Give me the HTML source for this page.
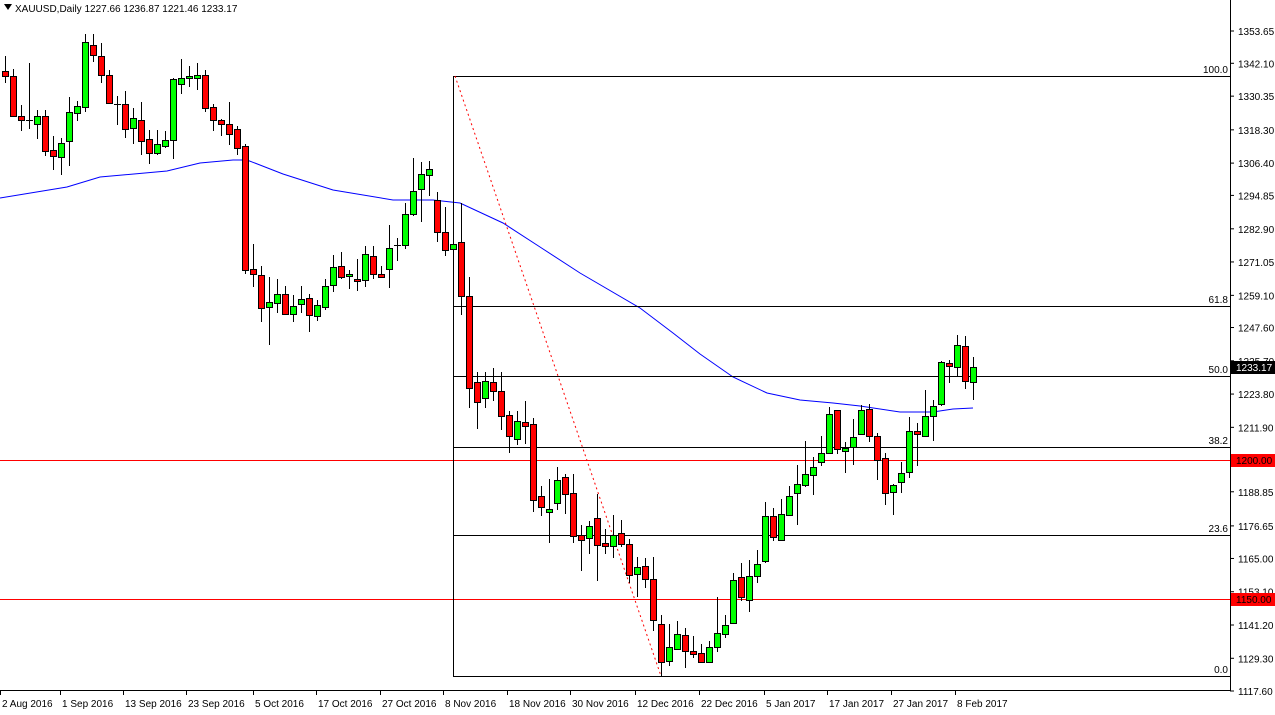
<!DOCTYPE html>
<html><head><meta charset="utf-8"><style>
html,body{margin:0;padding:0;background:#fff;}
svg{display:block;font-family:"Liberation Sans",sans-serif;}
</style></head><body>
<svg id="s" width="1275" height="715" viewBox="0 0 1275 715" xmlns="http://www.w3.org/2000/svg">
<rect width="1275" height="715" fill="#fff"/>
</svg>
<script>
const s=document.getElementById('s');let h='';
const ma=[[0,198],[67,187],[100,177],[167,171],[200,163],[233,160],[247,160],[283,174],[333,190],[393,200],[433,200],[460,203],[503,223],[540,247],[580,273],[640,308],[673,333],[700,354],[733,377],[767,393],[800,400],[833,403],[860,406],[900,412],[933,412],[953,409],[973,408]];
h+='<polyline fill="none" stroke="#0000ff" stroke-width="1" points="'+ma.map(p=>p.join(',')).join(' ')+'"/>';
h+='<line x1="0" y1="460.5" x2="1230" y2="460.5" stroke="#ff0000"/><line x1="0" y1="599.5" x2="1230" y2="599.5" stroke="#ff0000"/>';
h+='<line x1="453.5" y1="76" x2="453.5" y2="676" stroke="#000"/>';
[[76,'100.0'],[306,'61.8'],[376,'50.0'],[447,'38.2'],[535,'23.6'],[676,'0.0']].forEach(f=>{
h+=`<line x1="453" y1="${f[0]+.5}" x2="1230" y2="${f[0]+.5}" stroke="#000"/><text x="1228" y="${f[0]-3}" font-size="10" text-anchor="end">${f[1]}</text>`;});
h+='<line x1="455" y1="76" x2="661" y2="676" stroke="#ff0000" stroke-dasharray="2,3"/>';
const C=[[5,56,83,71,76,'r'],[13,69,116,76,116,'r'],[21,105,131,116,120,'r'],[29,63,129,120,120,'d'],[37,110,139,116,124,'g'],[45,110,156,116,151,'r'],[53,136,170,150,156,'r'],[61,138,175,143,157,'g'],[69,97,166,112,141,'g'],[77,101,121,106,113,'g'],[85,34,112,42,107,'g'],[93,34,62,45,55,'r'],[101,43,83,56,75,'r'],[109,70,103,75,103,'r'],[117,96,125,104,104,'d'],[125,91,138,104,129,'r'],[133,108,144,118,128,'g'],[141,102,155,120,141,'r'],[149,130,164,139,153,'r'],[157,130,155,144,153,'g'],[165,131,148,140,146,'g'],[173,78,159,79,140,'g'],[181,59,94,78,84,'g'],[189,66,87,76,78,'g'],[197,63,90,75,78,'g'],[205,70,112,75,108,'r'],[213,104,131,107,120,'r'],[221,119,136,120,124,'r'],[229,102,145,124,134,'r'],[237,126,155,129,148,'r'],[245,144,274,146,270,'r'],[253,244,287,269,274,'r'],[261,266,322,275,308,'r'],[269,277,345,302,307,'g'],[277,279,313,294,303,'g'],[285,286,314,294,314,'r'],[293,295,322,306,314,'g'],[301,286,313,299,304,'g'],[309,294,332,298,315,'r'],[317,300,321,305,316,'g'],[325,279,310,286,307,'g'],[333,255,292,267,285,'g'],[341,252,279,266,277,'r'],[349,270,289,274,276,'g'],[357,259,291,279,281,'r'],[365,246,287,254,280,'g'],[373,246,279,256,274,'r'],[381,266,278,274,277,'r'],[389,225,288,248,269,'g'],[397,238,261,245,245,'d'],[405,203,249,214,245,'g'],[413,158,216,191,214,'g'],[421,162,222,174,189,'g'],[429,161,196,169,175,'g'],[437,192,242,200,232,'r'],[445,207,256,232,250,'r'],[453,195,270,244,249,'g'],[461,203,315,242,296,'r'],[469,277,408,296,388,'r'],[477,372,429,382,402,'r'],[485,372,408,381,398,'g'],[493,368,401,382,391,'r'],[501,372,430,391,416,'r'],[509,411,453,415,436,'r'],[517,411,445,421,439,'g'],[525,401,444,422,426,'r'],[533,418,512,424,500,'r'],[541,486,516,496,507,'r'],[549,479,543,509,512,'g'],[557,467,510,480,503,'g'],[565,474,514,477,494,'r'],[573,474,543,493,536,'r'],[581,525,571,535,540,'r'],[589,521,554,526,538,'g'],[597,494,581,518,545,'r'],[605,529,554,543,546,'r'],[613,515,558,535,546,'g'],[621,520,547,533,544,'r'],[629,539,583,544,575,'r'],[637,557,597,567,574,'g'],[645,558,588,566,579,'r'],[653,557,631,579,620,'r'],[661,615,677,624,662,'r'],[669,624,666,647,661,'g'],[677,621,650,634,649,'g'],[685,628,668,635,651,'r'],[693,636,658,651,654,'r'],[701,644,663,653,662,'r'],[709,641,662,647,662,'g'],[717,597,652,633,647,'g'],[725,615,638,625,634,'g'],[733,573,624,580,623,'g'],[741,563,601,577,597,'r'],[749,560,612,576,600,'g'],[757,550,583,564,576,'g'],[765,502,563,516,561,'g'],[773,508,541,516,537,'r'],[781,499,541,514,540,'g'],[789,486,515,496,515,'g'],[797,465,525,484,493,'g'],[805,441,487,474,485,'g'],[813,457,495,467,475,'g'],[821,436,466,453,462,'g'],[829,407,454,414,453,'g'],[837,410,454,410,449,'r'],[845,442,473,448,451,'g'],[853,419,465,437,447,'g'],[861,405,434,410,434,'g'],[869,404,442,409,436,'r'],[877,433,480,436,460,'r'],[885,453,505,458,493,'r'],[893,484,515,485,492,'g'],[901,462,493,473,482,'g'],[909,417,478,431,472,'g'],[917,423,466,431,434,'r'],[925,390,437,416,436,'g'],[933,400,441,406,416,'g'],[941,361,406,362,404,'g'],[949,360,383,363,366,'r'],[957,335,376,345,367,'g'],[965,336,389,346,381,'r'],[973,357,400,367,382,'g']];
C.forEach(c=>{const[x,hi,lo,t,b,col]=c;
h+=`<line x1="${x+.5}" y1="${hi}" x2="${x+.5}" y2="${lo}" stroke="#000"/>`;
if(col=='d'){h+=`<line x1="${x-3}" y1="${t+.5}" x2="${x+4}" y2="${t+.5}" stroke="#000"/>`;}
else h+=`<rect x="${x-2.5}" y="${t+.5}" width="6" height="${Math.max(b-t,1)}" fill="${col=='r'?'#ff0000':'#00ff00'}" stroke="#000"/>`;});
h+='<line x1="1230.5" y1="0" x2="1230.5" y2="690" stroke="#000"/><line x1="0" y1="690.5" x2="1231" y2="690.5" stroke="#000"/>';
const vals=[1353.65,1342.10,1330.35,1318.30,1306.40,1294.85,1282.90,1271.05,1259.10,1247.60,1235.70,1223.80,1211.90,1188.85,1176.65,1165.00,1153.10,1141.20,1129.30,1117.60];
vals.forEach(v=>{const y=31+(1353.65-v)*2.796;h+=`<line x1="1230" y1="${y}" x2="1234" y2="${y}" stroke="#000"/><text x="1238" y="${y+4}" font-size="10">${v.toFixed(2)}</text>`;});
[[460,'1200.00'],[599,'1150.00']].forEach(b=>{h+=`<rect x="1231" y="${b[0]-6}" width="44" height="13" fill="#ff0000"/><text x="1236" y="${b[0]+4}" font-size="10" fill="#000">${b[1]}</text>`;});
h+='<rect x="1231" y="361" width="44" height="13" fill="#000"/><text x="1236" y="371" font-size="10" fill="#fff">1233.17</text>';
[[0,'2 Aug 2016'],[60,'1 Sep 2016'],[123,'13 Sep 2016'],[186,'23 Sep 2016'],[253,'5 Oct 2016'],[316,'17 Oct 2016'],[380,'27 Oct 2016'],[443,'8 Nov 2016'],[507,'18 Nov 2016'],[570,'30 Nov 2016'],[635,'12 Dec 2016'],[699,'22 Dec 2016'],[764,'5 Jan 2017'],[827,'17 Jan 2017'],[891,'27 Jan 2017'],[955,'8 Feb 2017']].forEach(l=>{
h+=`<line x1="${l[0]+.5}" y1="690" x2="${l[0]+.5}" y2="695" stroke="#000"/><text x="${l[0]+2}" y="707" font-size="10">${l[1]}</text>`;});
h+='<polygon points="4,4 12,4 8,10" fill="#000"/><text x="15" y="12" font-size="10">XAUUSD,Daily  1227.66 1236.87 1221.46 1233.17</text>';
s.innerHTML+=h;
</script>
</body></html>
